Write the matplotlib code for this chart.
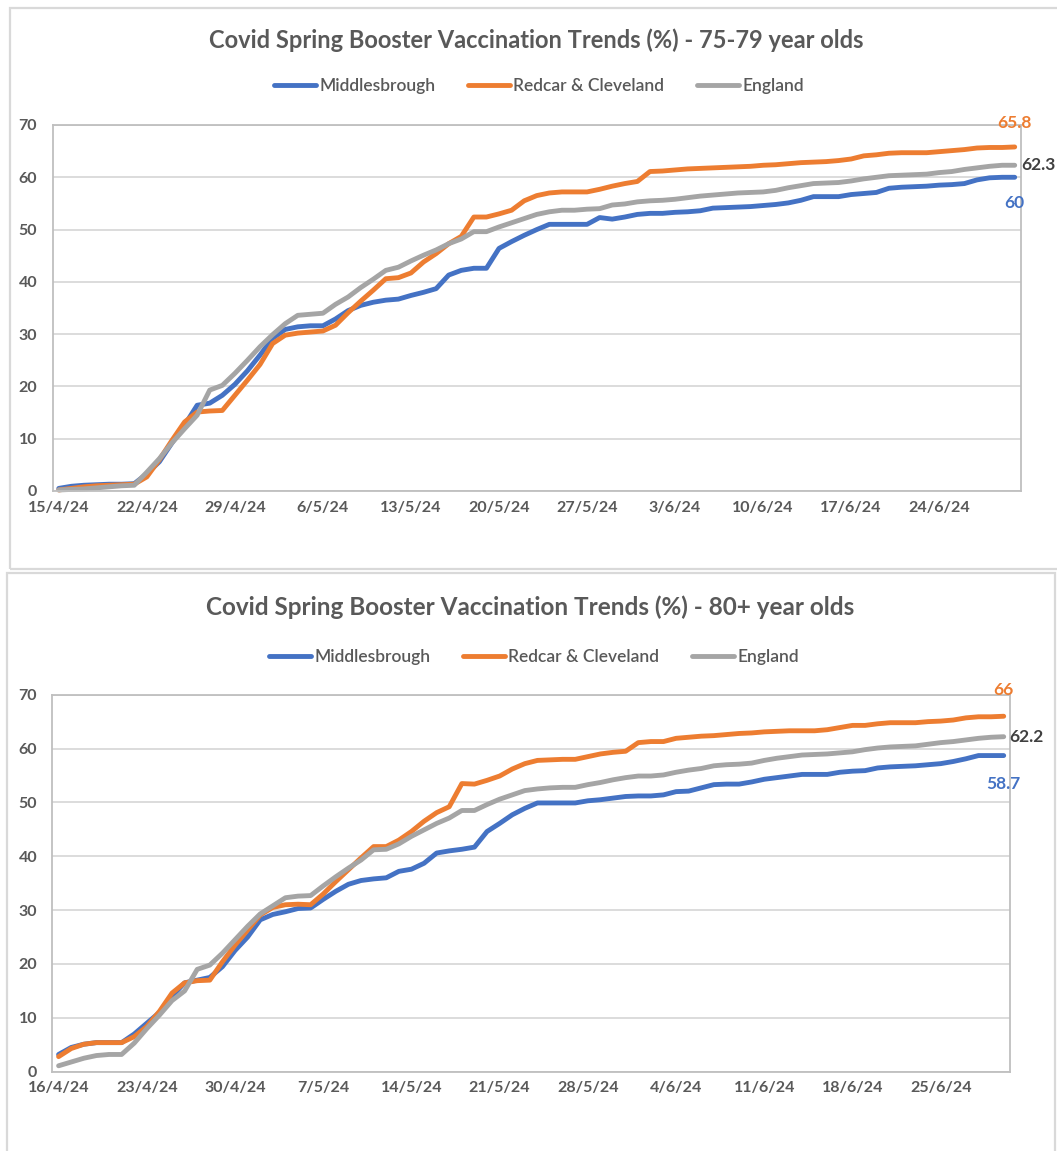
import pandas as pd
import matplotlib
matplotlib.use('Agg')
import matplotlib.pyplot as plt
import matplotlib.dates as mdates
from matplotlib.ticker import FuncFormatter
from matplotlib.patches import Rectangle

# daily uptake (%) 75-79 year olds, 15/4/24 - 30/6/24
dates_7579 = pd.date_range('2024-04-15', '2024-06-30')
mid_7579 = [0.5, 0.9, 1.1, 1.2, 1.3, 1.3, 1.4, 3.3, 5.6, 9.2,
            12.6, 16.4, 16.8, 18.3, 20.4, 23.0, 26.0, 29.2, 30.9, 31.4,
            31.6, 31.6, 32.9, 34.5, 35.5, 36.1, 36.5, 36.7, 37.4, 38.0,
            38.7, 41.3, 42.2, 42.6, 42.6, 46.4, 47.7, 48.9, 50.0, 51.0,
            51.0, 51.0, 51.0, 52.3, 52.0, 52.4, 52.9, 53.1, 53.1, 53.3,
            53.4, 53.6, 54.1, 54.2, 54.3, 54.4, 54.6, 54.8, 55.1, 55.6,
            56.3, 56.3, 56.3, 56.7, 56.9, 57.1, 57.9, 58.1, 58.2, 58.3,
            58.5, 58.6, 58.8, 59.5, 59.9, 60.0, 60.0]
red_7579 = [0.2, 0.5, 0.8, 1.0, 1.1, 1.2, 1.3, 2.7, 6.0, 9.7,
            13.2, 15.1, 15.3, 15.4, 18.3, 21.2, 24.2, 28.2, 29.8, 30.2,
            30.4, 30.6, 31.7, 34.1, 36.3, 38.4, 40.6, 40.8, 41.7, 43.8,
            45.4, 47.3, 48.7, 52.4, 52.4, 53.0, 53.7, 55.5, 56.5, 57.0,
            57.2, 57.2, 57.2, 57.7, 58.3, 58.8, 59.2, 61.1, 61.2, 61.4,
            61.6, 61.7, 61.8, 61.9, 62.0, 62.1, 62.3, 62.4, 62.6, 62.8,
            62.9, 63.0, 63.2, 63.5, 64.1, 64.3, 64.6, 64.7, 64.7, 64.7,
            64.9, 65.1, 65.3, 65.6, 65.7, 65.7, 65.8]
eng_7579 = [0.2, 0.3, 0.4, 0.6, 0.8, 1.0, 1.1, 3.6, 6.2, 9.2,
            11.9, 14.5, 19.3, 20.2, 22.5, 25.0, 27.6, 29.9, 32.0, 33.6,
            33.8, 34.0, 35.7, 37.1, 38.9, 40.5, 42.2, 42.8, 44.0, 45.1,
            46.1, 47.3, 48.2, 49.6, 49.6, 50.5, 51.3, 52.1, 52.9, 53.4,
            53.7, 53.7, 53.9, 54.0, 54.7, 54.9, 55.3, 55.5, 55.6, 55.8,
            56.1, 56.4, 56.6, 56.8, 57.0, 57.1, 57.2, 57.5, 58.0, 58.4,
            58.8, 58.9, 59.0, 59.3, 59.7, 60.0, 60.3, 60.4, 60.5, 60.6,
            60.9, 61.1, 61.5, 61.8, 62.1, 62.3, 62.3]

# daily uptake (%) 80+ year olds, 16/4/24 - 30/6/24
dates_80 = pd.date_range('2024-04-16', '2024-06-30')
mid_80 = [3.2, 4.5, 5.1, 5.4, 5.4, 5.4, 7.0, 9.0, 11.0, 14.0,
          16.5, 17.0, 17.5, 19.5, 22.5, 25.0, 28.2, 29.2, 29.7, 30.3,
          30.4, 32.0, 33.5, 34.8, 35.5, 35.8, 36.0, 37.2, 37.6, 38.7,
          40.6, 41.0, 41.3, 41.7, 44.6, 46.1, 47.7, 48.9, 49.9, 49.9,
          49.9, 49.9, 50.3, 50.5, 50.8, 51.1, 51.2, 51.2, 51.4, 52.0,
          52.1, 52.7, 53.3, 53.4, 53.4, 53.8, 54.3, 54.6, 54.9, 55.2,
          55.2, 55.2, 55.6, 55.8, 55.9, 56.4, 56.6, 56.7, 56.8, 57.0,
          57.2, 57.6, 58.1, 58.7, 58.7, 58.7]
red_80 = [2.8, 4.3, 5.1, 5.4, 5.4, 5.4, 6.5, 8.4, 11.2, 14.6,
          16.5, 16.9, 17.0, 20.4, 23.5, 26.3, 29.1, 30.5, 31.0, 31.1,
          31.0, 33.0, 35.3, 37.5, 39.7, 41.8, 41.8, 43.0, 44.6, 46.5,
          48.1, 49.2, 53.5, 53.4, 54.1, 54.9, 56.2, 57.2, 57.8, 57.9,
          58.0, 58.0, 58.5, 59.0, 59.3, 59.5, 61.1, 61.3, 61.3, 61.9,
          62.1, 62.3, 62.4, 62.6, 62.8, 62.9, 63.1, 63.2, 63.3, 63.3,
          63.3, 63.5, 63.9, 64.3, 64.3, 64.6, 64.8, 64.8, 64.8, 65.0,
          65.1, 65.3, 65.7, 65.9, 65.9, 66.0]
eng_80 = [1.1, 1.8, 2.5, 3.0, 3.2, 3.2, 5.3, 8.0, 10.5, 13.2,
          15.0, 19.0, 19.8, 22.0, 24.5, 27.0, 29.3, 30.8, 32.3, 32.6,
          32.7, 34.5, 36.2, 37.8, 39.3, 41.2, 41.3, 42.3, 43.7, 44.9,
          46.1, 47.1, 48.5, 48.5, 49.6, 50.6, 51.4, 52.2, 52.5, 52.7,
          52.8, 52.8, 53.3, 53.7, 54.2, 54.6, 54.9, 54.9, 55.1, 55.6,
          56.0, 56.3, 56.8, 57.0, 57.1, 57.3, 57.8, 58.2, 58.5, 58.8,
          58.9, 59.0, 59.2, 59.4, 59.8, 60.1, 60.3, 60.4, 60.5, 60.8,
          61.1, 61.3, 61.6, 61.9, 62.1, 62.2]

series_names = ['Middlesbrough', 'Redcar & Cleveland', 'England']
colors = ['#4472C4', '#ED7D31', '#A5A5A5']
label_colors = ['#4472C4', '#ED7D31', '#404040']
txt = '#595959'

plt.rcParams['font.family'] = ['Lato', 'DejaVu Sans']

W, H = 1057, 1151
fig = plt.figure(figsize=(W / 100, H / 100), dpi=100)


def fx(px):
    return px / W


def fy(py):
    return 1 - py / H


# chart frames
fig.patches.append(Rectangle((fx(10), fy(569)), fx(1062 - 10), 561 / H, transform=fig.transFigure,
                             fill=False, edgecolor='#d9d9d9', linewidth=1.6))
fig.patches.append(Rectangle((fx(7), fy(1165)), fx(1055 - 7), 592 / H, transform=fig.transFigure,
                             fill=False, edgecolor='#d9d9d9', linewidth=1.6))


def day_fmt(v, pos):
    d = mdates.num2date(v)
    return f'{d.day}/{d.month}/{d.year % 100}'


def draw_chart(rect, dates, data, title, title_xy, title_size, legend_xy, offsets):
    ax = fig.add_axes(rect)
    for vals, name, c in zip(data, series_names, colors):
        ax.plot(dates, vals, color=c, linewidth=3.5, label=name, clip_on=False,
                solid_capstyle='round', solid_joinstyle='round')
    half = pd.Timedelta(hours=12)
    ax.set_xlim(dates[0] - half, dates[-1] + half)
    ax.set_ylim(0, 70)
    ax.set_yticks(range(0, 71, 10))
    ax.set_xticks(dates[::7])
    ax.xaxis.set_major_formatter(FuncFormatter(day_fmt))
    ax.grid(axis='y', color='#d9d9d9', linewidth=1.3)
    ax.set_axisbelow(True)
    for s in ax.spines.values():
        s.set_color('#bfbfbf')
        s.set_linewidth(1.3)
    ax.tick_params(axis='both', length=0, colors=txt, labelsize=11.5)
    ax.tick_params(axis='y', pad=11)
    ax.tick_params(axis='x', pad=7)
    for lab in ax.get_xticklabels() + ax.get_yticklabels():
        lab.set_fontweight('bold')

    # end-of-series value labels
    for vals, c, off in zip(data, label_colors, offsets):
        ax.annotate(f'{vals[-1]:g}', (dates[-1], vals[-1]), xytext=off[:2],
                    textcoords='offset pixels', ha=off[2], va='center',
                    color=c, fontsize=12.5, fontweight='bold', annotation_clip=False)

    fig.text(fx(title_xy[0]), fy(title_xy[1]), title, ha='center', va='center',
             color=txt, fontsize=title_size, fontweight='bold')
    leg = ax.legend(loc='center', bbox_to_anchor=(fx(legend_xy[0]), fy(legend_xy[1])),
                    bbox_transform=fig.transFigure, ncol=3, frameon=False,
                    fontsize=12.5, labelcolor=txt, handlelength=2.4, handletextpad=0.2,
                    columnspacing=1.9)
    for t in leg.get_texts():
        t.set_fontweight('semibold')
    return ax


draw_chart([fx(52.5), fy(491), fx(1021 - 52.5), 366 / H], dates_7579,
           [mid_7579, red_7579, eng_7579],
           'Covid Spring Booster Vaccination Trends (%) - 75-79 year olds',
           (536, 40), 17, (539, 86),
           [(0, -26, 'center'), (0, 24, 'center'), (7, 0, 'left')])

draw_chart([fx(52.3), fy(1071.7), fx(1010 - 52.3), 377 / H], dates_80,
           [mid_80, red_80, eng_80],
           'Covid Spring Booster Vaccination Trends (%) - 80+ year olds',
           (530, 607), 17.5, (534, 657),
           [(0, -28, 'center'), (0, 26, 'center'), (6, 0, 'left')])

fig.savefig('out.png', dpi=100)
